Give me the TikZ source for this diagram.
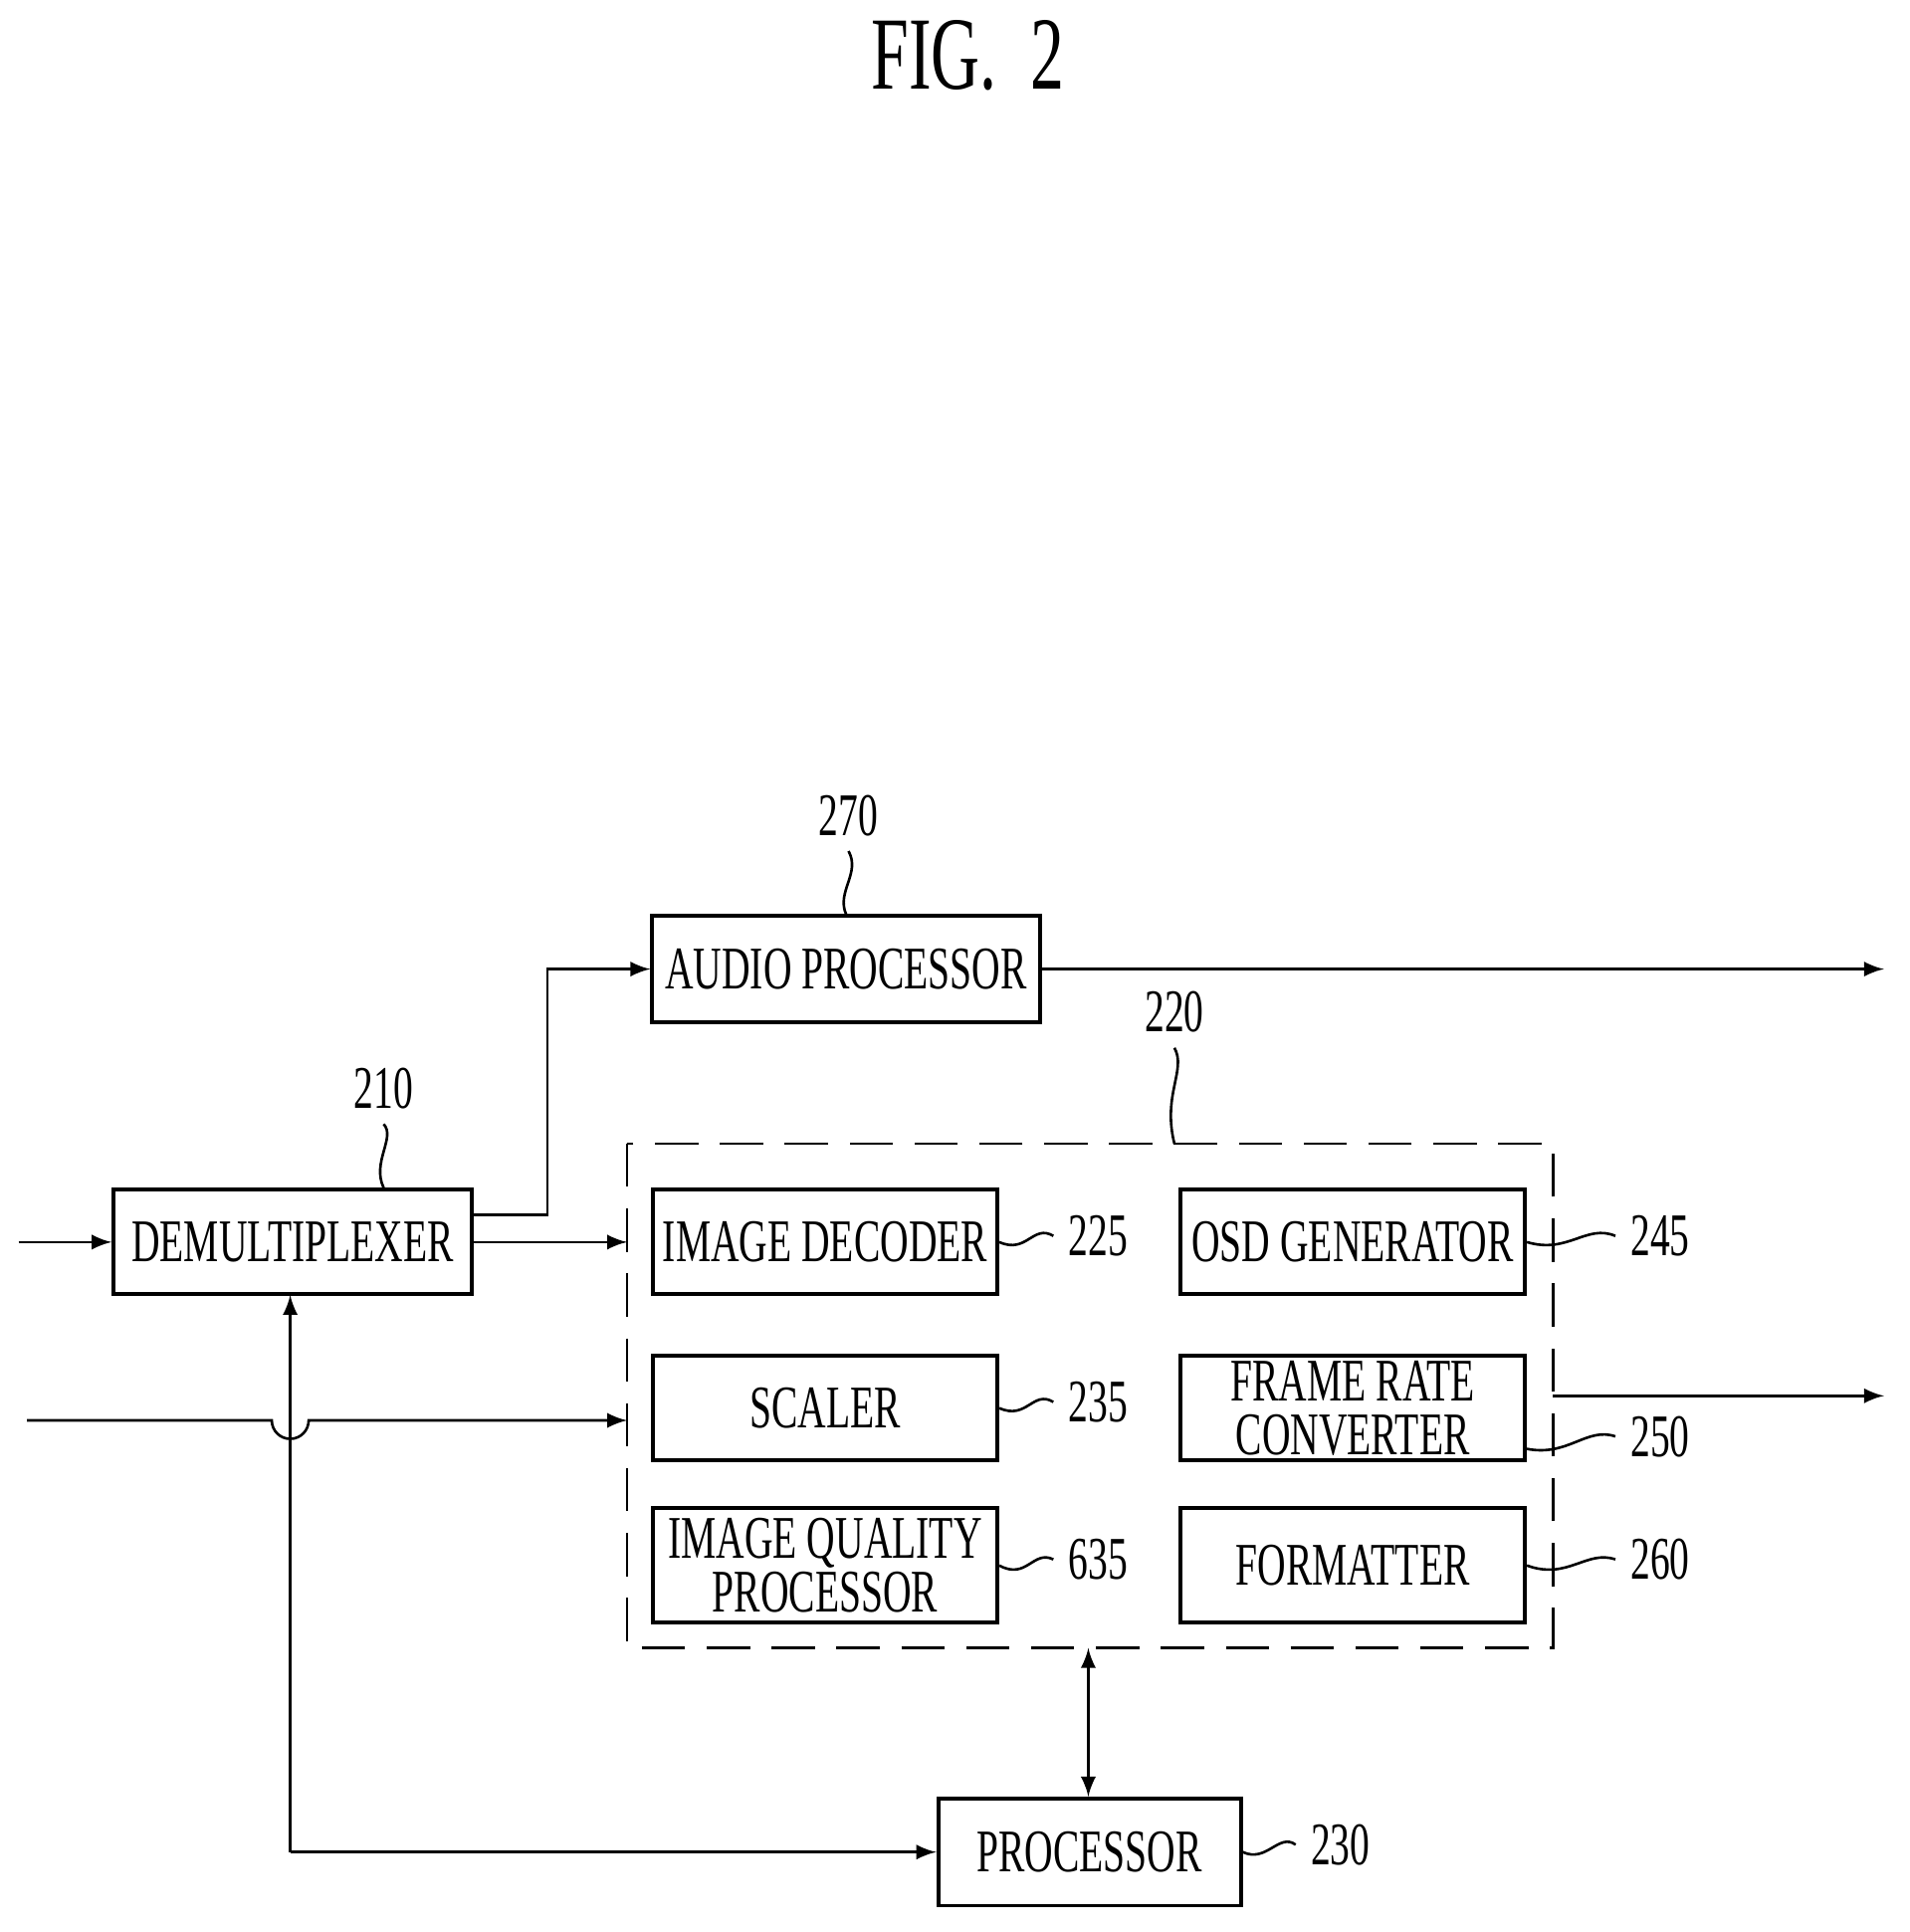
\documentclass[tikz,border=0pt]{standalone}
\usepackage{fontspec}
\setmainfont{Liberation Serif}[FakeStretch=0.65]
\usetikzlibrary{positioning}

\tikzset{
  blk/.style={draw, line width=0.9pt, minimum width=2.8cm, minimum height=0.85cm,
    inner sep=0pt, align=center, font=\fontsize{14}{12.5}\selectfont},
  lbl/.style={font=\fontsize{14}{14}\selectfont},
  sig/.style={-latex, line width=0.6pt},
  lead/.style={line width=0.6pt}
}

\begin{document}
\begin{tikzpicture}[x=0.01cm, y=-0.01cm]
  \useasboundingbox (0,0) rectangle (1553,1571);

  \node[font=\fontsize{24}{24}\selectfont] (title) at (787,45) {FIG.~~2};

  % boxes
  \node[blk, minimum width=3.15cm, minimum height=0.86cm] (audio) at (688,788) {AUDIO PROCESSOR};
  \node[blk, minimum width=2.91cm] (demux) at (238,1010) {DEMULTIPLEXER};
  \node[blk] (dec) at (671,1010) {IMAGE DECODER};
  \node[blk] (osd) at (1100,1010) {OSD GENERATOR};
  \node[blk] (scal) at (671,1145) {SCALER};
  \node[blk] (frc) at (1100,1145) {FRAME RATE\\CONVERTER};
  \node[blk, minimum height=0.93cm] (iq) at (671,1273) {IMAGE QUALITY\\PROCESSOR};
  \node[blk, minimum height=0.93cm] (fmt) at (1100,1273) {FORMATTER};
  \node[blk, minimum width=2.46cm, minimum height=0.87cm] (proc) at (886,1506) {PROCESSOR};

  % dashed group 220
  \draw[dashed, dash pattern=on 10pt off 5pt, line width=0.6pt] (510,930) rectangle (1263,1340);
  \coordinate (grpS) at (885,1340);

  % reference numbers
  \node[lbl] (n270) at (690,663) {270};
  \node[lbl] (n220) at (955,823) {220};
  \node[lbl] (n210) at (312,885) {210};
  \node[lbl] (n225) at (893,1005) {225};
  \node[lbl] (n245) at (1350,1005) {245};
  \node[lbl] (n235) at (893,1140) {235};
  \node[lbl] (n250) at (1350,1168) {250};
  \node[lbl] (n635) at (893,1268) {635};
  \node[lbl] (n260) at (1350,1268) {260};
  \node[lbl] (n230) at (1090,1500) {230};

  % leaders
  \draw[lead] (audio.north) .. controls (680,725) and (700,710) .. (n270.south);
  \draw[lead] (955,930) .. controls (945,890) and (965,870) .. (n220.south);
  \draw[lead] (demux.north -| 312,0) .. controls (302,945) and (322,925) .. (n210.south);
  \draw[lead] (dec.east) .. controls (835,1020) and (840,995) .. (n225.west);
  \draw[lead] (osd.east) .. controls (1275,1020) and (1290,995) .. (n245.west);
  \draw[lead] (scal.east) .. controls (835,1155) and (840,1130) .. (n235.west);
  \draw[lead] (1241,1178) .. controls (1275,1185) and (1290,1160) .. (n250.west);
  \draw[lead] (iq.east) .. controls (835,1285) and (840,1260) .. (n635.west);
  \draw[lead] (fmt.east) .. controls (1275,1285) and (1290,1260) .. (n260.west);
  \draw[lead] (proc.east) .. controls (1030,1515) and (1040,1490) .. (n230.west);

  % signal paths
  \coordinate (inA) at (15,1010);
  \coordinate (inB) at (22,1155);
  \coordinate (outA) at (1532,788);
  \coordinate (outB) at (1532,1135);
  \draw[sig] (inA) -- (demux.west);
  \draw[sig] (demux.east |- 0,988) -- (445,988) |- (audio.west);
  \draw[sig] (audio.east) -- (outA);
  \draw[sig] (demux.east) -- (510,1010);
  \draw[sig] (inB) -- (221,1155) arc[start angle=180, end angle=0, radius=15] -- (510,1155);
  \draw[sig] (proc.west -| 236,0) -- (236,1053);
  \draw[sig] (236,1506) -- (proc.west);
  \draw[sig] (1263,1135) -- (outB);
  \draw[latex-latex, line width=0.6pt] (grpS) -- (proc.north -| grpS);
\end{tikzpicture}
\end{document}
